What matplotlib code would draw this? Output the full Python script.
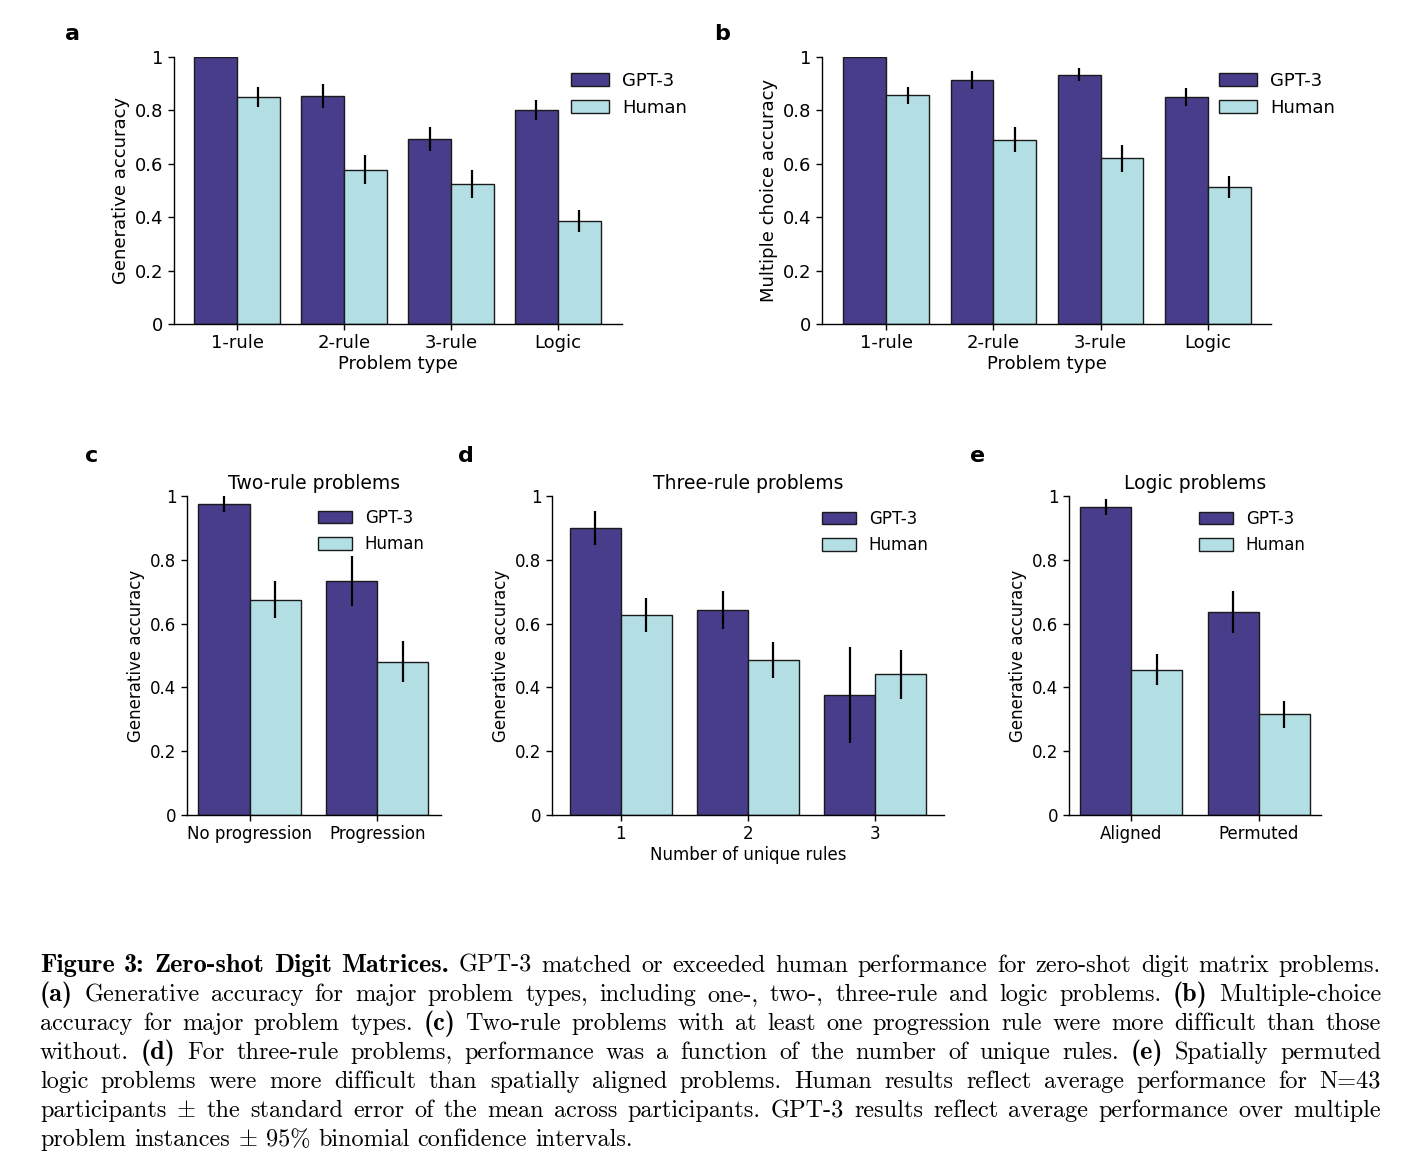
import matplotlib
matplotlib.use('Agg')
import matplotlib.pyplot as plt
import numpy as np

plt.rcParams['font.family'] = 'DejaVu Sans'
plt.rcParams['mathtext.fontset'] = 'cm'

W_PX, H_PX = 1410, 1176
GPT_COLOR = 'darkslateblue'
HUMAN_COLOR = '#b3dfe4'

# ---------------- data ----------------
series_names = ['GPT-3', 'Human']
ytick_vals = [0, 0.2, 0.4, 0.6, 0.8, 1.0]
ytick_labels = ['0', '0.2', '0.4', '0.6', '0.8', '1']

# (a) generative accuracy by problem type
types_ab = ['1-rule', '2-rule', '3-rule', 'Logic']
gen_gpt3 = [1.0, 0.854, 0.692, 0.801]
gen_gpt3_err = [0.0, 0.044, 0.044, 0.038]
gen_human = [0.849, 0.578, 0.524, 0.386]
gen_human_err = [0.038, 0.054, 0.053, 0.040]

# (b) multiple choice accuracy by problem type
mc_gpt3 = [1.0, 0.913, 0.934, 0.851]
mc_gpt3_err = [0.0, 0.034, 0.023, 0.034]
mc_human = [0.857, 0.691, 0.621, 0.512]
mc_human_err = [0.032, 0.047, 0.050, 0.041]

# (c) two-rule problems
two_rule_cats = ['No progression', 'Progression']
two_rule_gpt3 = [0.976, 0.734]
two_rule_gpt3_err = [0.026, 0.078]
two_rule_human = [0.675, 0.480]
two_rule_human_err = [0.058, 0.064]

# (d) three-rule problems
three_rule_cats = ['1', '2', '3']
three_rule_gpt3 = [0.900, 0.642, 0.377]
three_rule_gpt3_err = [0.053, 0.060, 0.150]
three_rule_human = [0.628, 0.485, 0.441]
three_rule_human_err = [0.053, 0.056, 0.077]

# (e) logic problems
logic_cats = ['Aligned', 'Permuted']
logic_gpt3 = [0.965, 0.636]
logic_gpt3_err = [0.025, 0.065]
logic_human = [0.456, 0.316]
logic_human_err = [0.048, 0.042]

caption_lines = [
    [("Figure 3: Zero-shot Digit Matrices.", True),
     ("GPT-3 matched or exceeded human performance for zero-shot digit matrix problems.", False)],
    [("(a)", True),
     ("Generative accuracy for major problem types, including one-, two-, three-rule and logic problems.", False),
     ("(b)", True), ("Multiple-choice", False)],
    [("accuracy for major problem types.", False), ("(c)", True),
     ("Two-rule problems with at least one progression rule were more difficult than those", False)],
    [("without.", False), ("(d)", True),
     ("For three-rule problems, performance was a function of the number of unique rules.", False),
     ("(e)", True), ("Spatially permuted", False)],
    [("logic problems were more difficult than spatially aligned problems. Human results reflect average performance for N=43", False)],
    [("participants ± the standard error of the mean across participants. GPT-3 results reflect average performance over multiple", False)],
    [("problem instances ± 95% binomial confidence intervals.", False)],
]

# ---------------- figure ----------------
fig = plt.figure(figsize=(W_PX / 100, H_PX / 100), dpi=100)


def px_axes(left, right, top, bottom):
    return fig.add_axes([left / W_PX, 1 - bottom / H_PX,
                         (right - left) / W_PX, (bottom - top) / H_PX])


def bar_panel(ax, cats, gpt, gpt_err, hum, hum_err, xlim, fs, ylabel,
              xlabel=None, title=None, leg_xy=None, leg_fs=None, handlelen=2.1):
    x = np.arange(len(cats))
    w = 0.4
    ekw = dict(ecolor='black', elinewidth=1.6, capsize=0)
    b1 = ax.bar(x - w / 2, gpt, w, color=GPT_COLOR, edgecolor='#1a1a1a',
                linewidth=1.0, yerr=gpt_err, error_kw=ekw, label=series_names[0])
    b2 = ax.bar(x + w / 2, hum, w, color=HUMAN_COLOR, edgecolor='#1a1a1a',
                linewidth=1.0, yerr=hum_err, error_kw=ekw, label=series_names[1])
    ax.set_xlim(*xlim)
    ax.set_ylim(0, 1)
    ax.set_yticks(ytick_vals)
    ax.set_yticklabels(ytick_labels)
    ax.set_xticks(x)
    ax.set_xticklabels(cats)
    ax.tick_params(labelsize=fs, length=4, width=1)
    for s in ['top', 'right']:
        ax.spines[s].set_visible(False)
    for s in ['left', 'bottom']:
        ax.spines[s].set_linewidth(1.0)
    ax.set_ylabel(ylabel, fontsize=fs)
    if xlabel:
        ax.set_xlabel(xlabel, fontsize=fs, labelpad=2)
    if title:
        ax.set_title(title, fontsize=fs + 1.5, pad=5)
    lx, ly = leg_xy
    ax.legend(handles=[b1, b2], loc='upper left',
              bbox_to_anchor=(lx / W_PX, 1 - ly / H_PX),
              bbox_transform=fig.transFigure, frameon=False,
              fontsize=leg_fs or fs, borderpad=0, borderaxespad=0,
              handlelength=handlelen, handleheight=0.75,
              handletextpad=0.75, labelspacing=0.5)


ax_a = px_axes(174, 622, 57, 324)
bar_panel(ax_a, types_ab, gen_gpt3, gen_gpt3_err, gen_human, gen_human_err,
          (-0.59, 3.6), 13, 'Generative accuracy', xlabel='Problem type',
          leg_xy=(571, 72))

ax_b = px_axes(822, 1271, 57, 324)
bar_panel(ax_b, types_ab, mc_gpt3, mc_gpt3_err, mc_human, mc_human_err,
          (-0.6, 3.59), 13, 'Multiple choice accuracy', xlabel='Problem type',
          leg_xy=(1219, 72))

ax_c = px_axes(187, 441, 496, 815)
bar_panel(ax_c, two_rule_cats, two_rule_gpt3, two_rule_gpt3_err,
          two_rule_human, two_rule_human_err, (-0.49, 1.5), 12,
          'Generative accuracy', title='Two-rule problems',
          leg_xy=(318, 509), handlelen=2.05)

ax_d = px_axes(552, 944, 496, 815)
bar_panel(ax_d, three_rule_cats, three_rule_gpt3, three_rule_gpt3_err,
          three_rule_human, three_rule_human_err, (-0.54, 2.54), 12,
          'Generative accuracy', xlabel='Number of unique rules',
          title='Three-rule problems', leg_xy=(822, 510), handlelen=2.05)

ax_e = px_axes(1069, 1321, 496, 815)
bar_panel(ax_e, logic_cats, logic_gpt3, logic_gpt3_err, logic_human,
          logic_human_err, (-0.49, 1.49), 12, 'Generative accuracy',
          title='Logic problems', leg_xy=(1199, 510), handlelen=2.05)

# panel letters
for letter, (lx, ly) in zip('abcde', [(73, 40), (722, 40), (92, 462),
                                     (466, 462), (978, 462)]):
    fig.text(lx / W_PX, 1 - ly / H_PX, letter, fontsize=16, fontweight='bold',
             ha='center', va='baseline')

# ---------------- caption (justified) ----------------
renderer = fig.canvas.get_renderer()
X0, X1 = 40, 1381
BASE0, LSTEP = 972, 29
CAP_SIZE = 17.5          # pt, regular
BOLD_SCALE = 1.08        # bold extended is wider than cmb10


def make_word(word, bold):
    fam = 'cmb10' if bold else 'cmr10'
    size = CAP_SIZE * (BOLD_SCALE if bold else 1.0)
    s = word.replace('±', r'$\pm$')
    return fig.text(0, 0, s, fontsize=size, family=fam, ha='left',
                    va='baseline')


def words_of(line):
    out = []
    for chunk, bold in line:
        for wd in chunk.split(' '):
            out.append((wd, bold))
    return out


space_px = 0.333 * CAP_SIZE * 100 / 72

for i, line in enumerate(caption_lines):
    wl = words_of(line)
    texts = [make_word(w, b) for w, b in wl]
    widths = [t.get_window_extent(renderer).width for t in texts]
    last = (i == len(caption_lines) - 1)
    if last:
        gap = space_px
    else:
        gap = (X1 - X0 - sum(widths)) / (len(texts) - 1)
    x = X0
    ybase = BASE0 + i * LSTEP
    for t, wdt in zip(texts, widths):
        t.set_position((x / W_PX, 1 - ybase / H_PX))
        x += wdt + gap

fig.savefig('out.png', dpi=100)
